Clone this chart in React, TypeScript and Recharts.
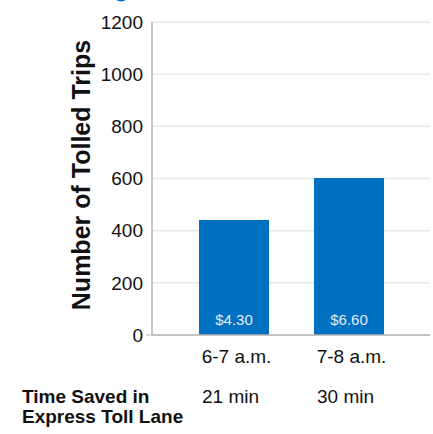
import { BarChart, Bar, XAxis, YAxis, CartesianGrid, LabelList, Label } from "recharts";

const periods = ["6-7 a.m.", "7-8 a.m."];
const tolledTrips = [441, 602];
const tollPrices = ["$4.30", "$6.60"];
const timeSaved = ["21 min", "30 min"];
const yTicks = [0, 200, 400, 600, 800, 1000, 1200];

const data = periods.map((period, i) => ({
  period,
  trips: tolledTrips[i],
  price: tollPrices[i],
  saved: timeSaved[i],
}));

const FONT = "'Liberation Sans', Arial, Helvetica, sans-serif";
const BLUE = "#0070c0";
const AXIS = "#b4b4b4";

function YTick(props: any) {
  const { x, y, payload } = props;
  return (
    <g>
      {payload.value === 0 && <line x1={x + 3} x2={x + 9} y1={y} y2={y} stroke={AXIS} />}
      <text x={x} y={y} dy="0.355em" textAnchor="end" fontSize={19} fontFamily={FONT} fill="#111">
        {payload.value}
      </text>
    </g>
  );
}

function XTick(props: any) {
  const { x, y, payload, index } = props;
  return (
    <g>
      <text x={x + 3} y={y} dy={28} textAnchor="middle" fontSize={19} fontFamily={FONT} fill="#111">
        {payload.value}
      </text>
      <text x={x - 3} y={y} dy={68} textAnchor="middle" fontSize={19} fontFamily={FONT} fill="#111">
        {timeSaved[index]}
      </text>
    </g>
  );
}

function YLabel() {
  return (
    <g>
      <circle cx={121} cy={-7} r={8.5} fill={BLUE} />
      <text
        x={90}
        y={175}
        transform="rotate(-90 90 175)"
        textAnchor="middle"
        fontSize={25}
        fontWeight="bold"
        fontFamily={FONT}
        fill="#111"
      >
        Number of Tolled Trips
      </text>
      <text fontSize={19} fontWeight="bold" fontFamily={FONT} fill="#111">
        <tspan x={22} y={403}>Time Saved in</tspan>
        <tspan x={22} y={423}>Express Toll Lane</tspan>
      </text>
    </g>
  );
}

export default function App() {
  return (
    <div style={{ position: "absolute", left: 0, top: 0, background: "#fff" }}>
      <BarChart width={433} height={434} data={data} margin={{ top: 22, right: 3, left: 0, bottom: 69 }}>
        <CartesianGrid vertical={false} stroke="#e8e8e8" strokeWidth={1.5} />
        <XAxis
          dataKey="period"
          height={30}
          padding={{ left: 24, right: 24 }}
          axisLine={{ stroke: AXIS, strokeWidth: 1.5 }}
          tickLine={false}
          tickSize={0}
          tickMargin={0}
          tick={<XTick />}
          interval={0}
        />
        <YAxis
          width={152}
          domain={[0, 1200]}
          ticks={yTicks}
          axisLine={{ stroke: AXIS, strokeWidth: 1.5 }}
          tickLine={false}
          tickSize={0}
          tickMargin={9}
          tick={<YTick />}
          interval={0}
        >
          <Label content={<YLabel />} />
        </YAxis>
        <Bar dataKey="trips" fill={BLUE} barSize={70} isAnimationActive={false}>
          <LabelList
            dataKey="price"
            position="insideBottom"
            offset={10}
            fill="#e4ecf6"
            fontSize={15}
            fontFamily={FONT}
          />
        </Bar>
      </BarChart>
    </div>
  );
}
